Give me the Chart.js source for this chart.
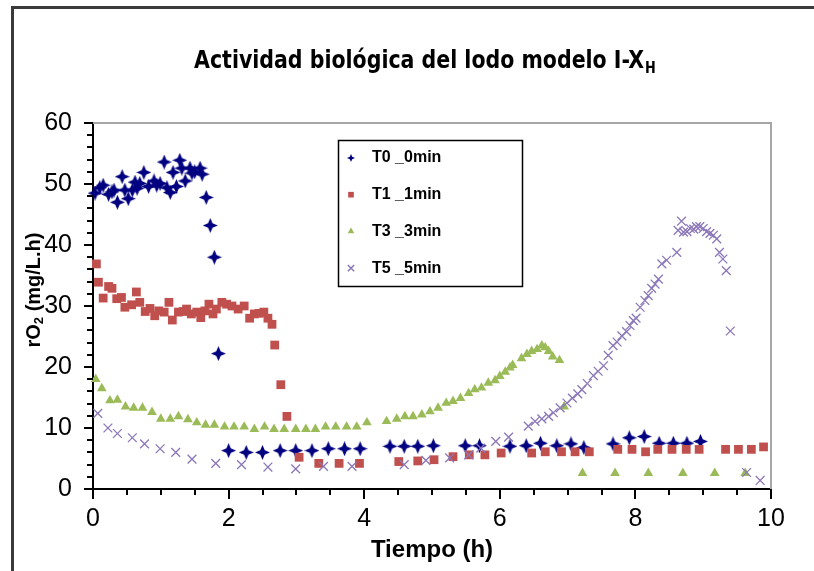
<!DOCTYPE html>
<html><head><meta charset="utf-8">
<script src="https://cdn.jsdelivr.net/npm/chart.js@4.4.1/dist/chart.umd.min.js"></script>
<style>html,body{margin:0;padding:0;background:#fff;overflow:hidden}canvas{display:block}</style>
</head><body>
<canvas id="c" width="814" height="571"></canvas>
<script>
// ---- data ----
const seriesNames = ['T0 _0min', 'T1 _1min', 'T3 _3min', 'T5 _5min'];
const xTickLabels = [0, 2, 4, 6, 8, 10];
const yTickLabels = [0, 10, 20, 30, 40, 50, 60];

const t0X = [0.03,0.10,0.15,0.23,0.28,0.31,0.36,0.43,0.47,0.52,0.58,0.62,0.65,0.69,0.75,0.82,0.90,0.94,0.99,1.05,1.09,1.14,1.18,1.23,1.28,1.31,1.36,1.43,1.46,1.50,1.58,1.61,1.67,1.73,1.79,1.85,2.00,2.26,2.50,2.76,2.99,3.23,3.47,3.71,3.94,4.38,4.59,4.79,5.02,5.49,5.70,6.15,6.39,6.60,6.84,7.05,7.24,7.67,7.91,8.13,8.35,8.56,8.76,8.96];
const t0Y = [48.5,49.4,49.8,48.3,48.7,49.0,47.0,51.2,49.0,47.6,49.0,50.3,49.3,50.1,51.9,49.6,50.5,49.8,50.1,53.6,49.4,48.6,51.9,49.6,53.9,52.6,50.5,52.6,51.8,52.0,52.6,51.6,47.8,43.2,38.0,22.2,6.3,6.0,6.0,6.3,6.3,6.3,6.6,6.6,6.6,7.0,7.0,7.0,7.1,7.1,7.1,7.0,7.1,7.5,7.1,7.4,6.8,7.4,8.4,8.6,7.5,7.5,7.5,7.8];

const t1X = [0.05,0.08,0.15,0.23,0.28,0.35,0.42,0.47,0.57,0.64,0.69,0.77,0.84,0.91,0.97,1.05,1.12,1.17,1.26,1.33,1.38,1.45,1.53,1.59,1.65,1.71,1.77,1.82,1.90,1.97,2.05,2.14,2.23,2.31,2.38,2.45,2.52,2.58,2.64,2.68,2.77,2.86,3.04,3.33,3.63,3.93,4.51,4.79,5.03,5.31,5.55,5.78,6.02,6.47,6.67,6.91,7.11,7.32,7.74,7.95,8.15,8.33,8.54,8.75,8.94,9.33,9.52,9.71,9.89];
const t1Y = [36.9,33.9,31.3,33.2,32.9,31.2,31.4,29.8,30.2,32.3,30.6,29.1,29.6,28.4,29.2,29.0,30.6,27.7,29.0,29.1,29.5,28.7,29.0,28.1,29.2,30.3,28.7,29.5,30.6,30.3,30.0,29.5,30.0,28.0,28.7,28.8,29.0,28.0,27.0,23.6,17.1,11.9,5.2,4.2,4.2,4.2,4.5,4.6,4.8,5.3,5.6,5.6,5.9,5.9,6.1,6.1,6.1,6.1,6.5,6.5,6.1,6.5,6.5,6.5,6.5,6.5,6.5,6.5,6.9];

const t3X = [0.04,0.13,0.25,0.36,0.48,0.60,0.73,0.87,1.00,1.14,1.26,1.40,1.53,1.66,1.79,1.94,2.08,2.23,2.38,2.53,2.67,2.82,2.99,3.14,3.28,3.43,3.58,3.74,3.89,4.04,4.33,4.48,4.60,4.72,4.85,4.97,5.09,5.21,5.31,5.42,5.54,5.63,5.73,5.83,5.93,6.00,6.08,6.15,6.19,6.32,6.40,6.47,6.55,6.62,6.67,6.72,6.78,6.88,6.95,7.22,7.70,8.19,8.70,9.17,9.62];
const t3Y = [18.0,16.5,14.5,14.6,13.5,13.3,13.3,12.6,11.5,11.5,11.9,11.4,10.9,10.5,10.5,10.2,10.2,10.2,9.8,10.2,9.8,9.8,9.8,9.8,9.8,10.2,10.2,10.2,10.2,10.9,11.1,11.5,11.9,11.9,12.2,12.7,13.3,14.1,14.4,14.9,15.7,16.3,16.6,17.4,17.8,18.5,19.2,19.9,20.3,21.4,22.1,22.6,22.9,23.5,23.2,22.6,21.7,21.1,13.5,2.6,2.6,2.6,2.6,2.6,2.6];

const t5X = [0.07,0.22,0.36,0.58,0.76,0.99,1.22,1.46,1.81,2.19,2.58,2.99,3.40,3.82,4.59,4.91,5.26,5.54,5.72,5.94,6.13,6.42,6.52,6.62,6.72,6.79,6.89,6.99,7.07,7.15,7.21,7.29,7.38,7.45,7.53,7.60,7.67,7.73,7.80,7.87,7.92,7.97,8.01,8.07,8.14,8.19,8.24,8.29,8.34,8.39,8.46,8.61,8.63,8.68,8.71,8.76,8.81,8.86,8.90,8.95,9.00,9.05,9.10,9.15,9.20,9.24,9.29,9.34,9.40,9.64,9.84];
const t5Y = [12.4,10.0,9.1,8.4,7.4,6.6,6.0,4.9,4.2,4.0,3.6,3.3,3.7,3.7,4.0,4.7,5.1,5.6,6.7,7.8,8.5,10.3,11.1,11.5,11.9,12.5,13.3,14.1,14.9,15.6,16.3,17.3,18.6,19.3,20.2,21.9,23.5,24.1,25.1,25.8,26.8,27.6,28.0,29.8,30.9,31.7,32.9,33.6,34.4,36.9,37.5,38.8,42.4,43.9,42.1,42.2,42.7,42.6,43.0,43.0,42.7,42.2,41.9,41.6,41.0,38.8,37.7,35.8,25.9,2.7,1.4];

// ---- styling ----
const FONT = '"Liberation Sans", Arial, sans-serif';
const colors = ['#000080', '#C0504D', '#9BBB59', '#8B77B8'];

function makeStar(size, color) {
  const c = document.createElement('canvas');
  c.width = c.height = size;
  const g = c.getContext('2d');
  const r = size / 2, ri = r * 0.42;
  g.fillStyle = color;
  g.beginPath();
  for (let i = 0; i < 8; i++) {
    const a = i * Math.PI / 4 - Math.PI / 2;
    const rr = i % 2 ? ri : r;
    g.lineTo(r + rr * Math.cos(a), r + rr * Math.sin(a));
  }
  g.closePath();
  g.fill();
  return c;
}
const starBig = makeStar(15, colors[0]);
const starSmall = makeStar(8, colors[0]);

const pts = (xs, ys) => xs.map((x, i) => ({x: x, y: ys[i]}));

const pointDefs = [
  {style: starBig, r: 7.5, bw: 0, legendStyle: starSmall, legendR: 4},
  {style: 'rect', r: 6.2, bw: 0, legendStyle: 'rect', legendR: 4},
  {style: 'triangle', r: 5.6, bw: 0, legendStyle: 'triangle', legendR: 3.8},
  {style: 'crossRot', r: 6.2, bw: 1.3, legendStyle: 'crossRot', legendR: 4.5}
];
const seriesData = [pts(t0X, t0Y), pts(t1X, t1Y), pts(t3X, t3Y), pts(t5X, t5Y)];

const datasets = seriesData.map((d, i) => ({
  label: seriesNames[i],
  data: d,
  showLine: false,
  pointStyle: pointDefs[i].style,
  pointRadius: pointDefs[i].r,
  pointHoverRadius: pointDefs[i].r,
  pointBackgroundColor: colors[i],
  pointBorderColor: colors[i],
  pointBorderWidth: pointDefs[i].bw,
  order: 4 - i,
  clip: false
}));

function drawMarker(ctx, i, x, y) {
  const def = pointDefs[i];
  ctx.save();
  ctx.fillStyle = colors[i];
  ctx.strokeStyle = colors[i];
  Chart.helpers.drawPoint(ctx, {pointStyle: def.legendStyle, radius: def.legendR, borderWidth: def.bw ? 1 : 0, rotation: 0}, x, y);
  ctx.restore();
}

const deco = {
  id: 'deco',
  beforeDraw(chart) {
    const ctx = chart.ctx;
    ctx.save();
    ctx.fillStyle = '#fff';
    ctx.fillRect(0, 0, chart.width, chart.height);
    ctx.strokeStyle = '#3a3a3a';
    ctx.lineWidth = 3;
    ctx.beginPath();
    ctx.moveTo(12.5, chart.height);
    ctx.lineTo(12.5, 7.5);
    ctx.lineTo(chart.width, 7.5);
    ctx.stroke();
    ctx.restore();
  },
  beforeDatasetsDraw(chart) {
    const ctx = chart.ctx, ca = chart.chartArea;
    ctx.save();
    ctx.strokeStyle = '#a6a6a6';
    ctx.lineWidth = 2;
    ctx.beginPath();
    ctx.moveTo(ca.left, ca.top);
    ctx.lineTo(ca.right, ca.top);
    ctx.lineTo(ca.right, ca.bottom);
    ctx.stroke();
    ctx.restore();
  },
  afterDraw(chart) {
    const ctx = chart.ctx, ca = chart.chartArea;
    const xs = chart.scales.x, ys = chart.scales.y;
    ctx.save();
    // tick marks (major + minor)
    ctx.strokeStyle = '#000';
    ctx.lineWidth = 2;
    ctx.beginPath();
    for (let k = 0; k <= 20; k++) {
      const v = k * 0.5;
      const px = Math.round(xs.getPixelForValue(v));
      const len = (k % 4 === 0) ? 10 : 6;
      ctx.moveTo(px, ca.bottom);
      ctx.lineTo(px, ca.bottom + len);
    }
    for (let k = 0; k <= 30; k++) {
      const v = k * 2;
      const py = Math.round(ys.getPixelForValue(v));
      const len = (k % 5 === 0) ? 9 : 6;
      ctx.moveTo(ca.left, py);
      ctx.lineTo(ca.left - len, py);
    }
    ctx.stroke();

    // chart title with subscript
    ctx.fillStyle = '#000';
    ctx.textBaseline = 'middle';
    ctx.textAlign = 'left';
    const main = 'Actividad biológica del lodo modelo I-X';
    ctx.font = 'bold 24px "Liberation Sans Narrow", "DejaVu Sans Condensed", ' + FONT;
    const w = ctx.measureText(main).width;
    const sx = 450 / w;
    ctx.save();
    ctx.translate(194, 62);
    ctx.scale(sx, 1);
    ctx.fillText(main, 0, 0);
    ctx.font = 'bold 15px "Liberation Sans Narrow", "DejaVu Sans Condensed", ' + FONT;
    ctx.fillText('H', w + 1, 7);
    ctx.restore();

    // y axis title (rotated, with subscript)
    ctx.save();
    ctx.translate(34, 290);
    ctx.rotate(-Math.PI / 2);
    ctx.font = 'bold 20px ' + FONT;
    const a = 'rO', b = '2', c = ' (mg/L.h)';
    const wa = ctx.measureText(a).width, wc = ctx.measureText(c).width;
    ctx.font = 'bold 13px ' + FONT;
    const wb = ctx.measureText(b).width;
    const total = wa + wb + wc;
    let x0 = -total / 2;
    ctx.font = 'bold 20px ' + FONT;
    ctx.fillText(a, x0, 0);
    ctx.font = 'bold 13px ' + FONT;
    ctx.fillText(b, x0 + wa, 5);
    ctx.font = 'bold 20px ' + FONT;
    ctx.fillText(c, x0 + wa + wb, 0);
    ctx.restore();

    // legend box
    ctx.fillStyle = '#fff';
    ctx.fillRect(338.5, 140.5, 184, 146);
    ctx.strokeStyle = '#000';
    ctx.lineWidth = 1.5;
    ctx.strokeRect(338.5, 140.5, 184, 146);
    ctx.font = 'bold 16px ' + FONT;
    ctx.textBaseline = 'middle';
    for (let i = 0; i < seriesNames.length; i++) {
      const yy = 158 + i * 36.7;
      drawMarker(ctx, i, 351, yy);
      ctx.fillStyle = '#000';
      ctx.fillText(seriesNames[i], 372, yy);
    }
    ctx.restore();
  }
};

new Chart(document.getElementById('c'), {
  type: 'scatter',
  data: {datasets: datasets},
  plugins: [deco],
  options: {
    responsive: false,
    animation: false,
    devicePixelRatio: 1,
    layout: {padding: {left: 0, right: 43, top: 123, bottom: 0}},
    plugins: {legend: {display: false}, tooltip: {enabled: false}, title: {display: false}},
    scales: {
      x: {
        type: 'linear', min: 0, max: 10,
        ticks: {
          stepSize: 2, maxRotation: 0, color: '#000', padding: 15,
          font: {family: FONT, size: 25},
          callback: v => xTickLabels.includes(v) ? String(v) : ''
        },
        grid: {display: false, drawTicks: false},
        border: {display: true, color: '#000', width: 2},
        title: {display: true, text: 'Tiempo (h)', color: '#000', font: {family: FONT, size: 24, weight: 'bold'}, padding: {top: 0, bottom: 6}},
        afterFit: s => { s.height = 82; }
      },
      y: {
        min: 0, max: 60,
        ticks: {
          stepSize: 10, color: '#000', padding: 21,
          font: {family: FONT, size: 25},
          callback: v => yTickLabels.includes(v) ? String(v) : ''
        },
        grid: {display: false, drawTicks: false},
        border: {display: true, color: '#000', width: 2},
        afterFit: s => { s.width = 93; }
      }
    }
  }
});
</script>
</body></html>
